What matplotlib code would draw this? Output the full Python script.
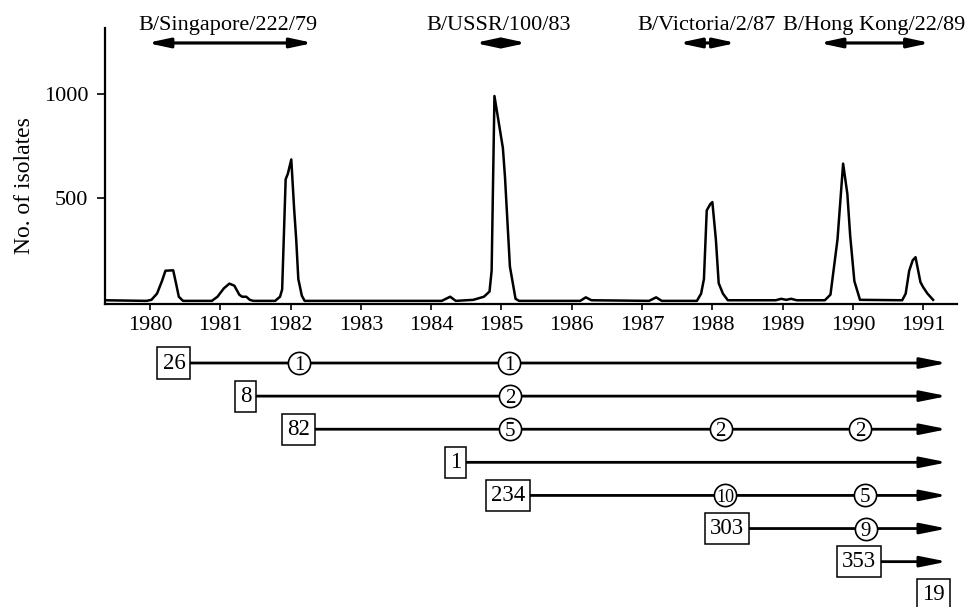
import matplotlib
matplotlib.use('Agg')
import matplotlib.pyplot as plt

plt.rcParams['font.family'] = ['Liberation Serif', 'DejaVu Serif']

# isolates per week
years = [1979.36, 1979.95, 1980.02, 1980.1, 1980.17, 1980.22, 1980.33, 1980.37, 1980.41, 1980.47,
         1980.88, 1980.96, 1981.05, 1981.13, 1981.2, 1981.27, 1981.31, 1981.37, 1981.42, 1981.47,
         1981.78, 1981.85, 1981.88, 1981.93, 1981.96, 1982.01, 1982.05, 1982.08, 1982.11, 1982.16, 1982.2,
         1984.15, 1984.27, 1984.35, 1984.6, 1984.75, 1984.83, 1984.86, 1984.9, 1985.02, 1985.05, 1985.12,
         1985.2, 1985.25, 1986.12, 1986.2, 1986.28, 1987.1, 1987.2, 1987.28,
         1987.78, 1987.84, 1987.88, 1987.92, 1987.97, 1988.0, 1988.05, 1988.09, 1988.15, 1988.22,
         1988.9, 1988.98, 1989.05, 1989.12, 1989.2,
         1989.6, 1989.68, 1989.78, 1989.86, 1989.92, 1989.96, 1990.02, 1990.1,
         1990.7, 1990.75, 1990.8, 1990.85, 1990.89, 1990.96, 1991.0, 1991.06, 1991.14]
isolates = [8, 5, 10, 40, 100, 150, 152, 90, 25, 5,
            5, 25, 65, 88, 78, 35, 25, 25, 10, 5,
            5, 25, 60, 590, 615, 685, 450, 300, 110, 30, 5,
            5, 25, 5, 10, 25, 50, 150, 990, 740, 600, 170,
            15, 5, 5, 22, 8, 5, 22, 5,
            5, 40, 110, 440, 470, 480, 300, 90, 40, 8,
            8, 15, 10, 15, 8,
            8, 35, 300, 665, 520, 320, 100, 10,
            8, 40, 150, 200, 215, 95, 70, 40, 10]

tick_years = list(range(1980, 1992))
y_ticks = [500, 1000]

# strain periods across the top
strains = ['B/Singapore/222/79', 'B/USSR/100/83', 'B/Victoria/2/87', 'B/Hong Kong/22/89']
strain_start = [1979.96, 1984.62, 1987.52, 1989.52]
strain_end = [1982.32, 1985.36, 1988.34, 1991.1]
strain_label_x = [1981.11, 1984.96, 1987.92, 1990.3]

# lineages: first season count (box), later counts (circles)
first_year = [1980.34, 1981.36, 1982.11, 1984.35, 1985.09, 1988.21, 1990.09, 1991.14]
first_count = [26, 8, 82, 1, 234, 303, 353, 19]
later_year = [[1982.12, 1985.11], [1985.12], [1985.12, 1988.12, 1990.1], [],
              [1988.18, 1990.17], [1990.18], [], []]
later_count = [[1, 1], [2], [5, 2, 2], [], [10, 5], [9], [], []]
line_end = 1991.34

W, H = 968, 607
fig = plt.figure(figsize=(W / 100, H / 100), dpi=100)
ax = fig.add_axes([105 / W, 1 - 304 / H, 852 / W, 276 / H])
ax2 = fig.add_axes([105 / W, 0, 852 / W, 267 / H], sharex=ax)

ax.plot(years, isolates, color='black', lw=1.8)
ax.set_xlim(1979.36, 1991.48)
ax.set_ylim(-10, 1317)
ax.set_xticks(tick_years)
ax.set_yticks(y_ticks)
ax.spines['top'].set_visible(False)
ax.spines['right'].set_visible(False)
ax.spines['left'].set_linewidth(1.6)
ax.spines['bottom'].set_linewidth(1.6)
ax.tick_params(axis='x', direction='out', length=4.5, width=1.2, pad=4, labelsize=16)
ax.tick_params(axis='y', direction='out', length=6, width=1.2, pad=6, labelsize=16)
ax.set_ylabel('No. of isolates', fontsize=17)
ax.yaxis.set_label_coords(-0.082, 0.43)

for name, s, e, lx in zip(strains, strain_start, strain_end, strain_label_x):
    ax.annotate('', xy=(e, 1245), xytext=(s, 1245), annotation_clip=False,
                arrowprops=dict(arrowstyle='<|-|>,head_length=0.65,head_width=0.14',
                                lw=2.3, color='black', mutation_scale=20,
                                shrinkA=0, shrinkB=0))
    ax.text(lx, 1308, name, ha='center', va='baseline', fontsize=16, clip_on=False)

# lower panel: one row per lineage
ax2.set_ylim(7.37, -0.695)
ax2.axis('off')
for r in range(len(first_year)):
    if first_year[r] < line_end - 0.3:
        ax2.annotate('', xy=(line_end, r), xytext=(first_year[r], r), annotation_clip=False,
                     arrowprops=dict(arrowstyle='-|>,head_length=0.8,head_width=0.16',
                                     lw=2.0, color='black', mutation_scale=20,
                                     shrinkA=0, shrinkB=0), zorder=2)
    ax2.text(first_year[r], r, str(first_count[r]), ha='center', va='center', fontsize=16.5,
             zorder=5, bbox=dict(boxstyle='square,pad=0.22', fc='white', ec='black', lw=1.1))
    for x, c in zip(later_year[r], later_count[r]):
        ax2.plot(x, r, 'o', ms=16, mfc='white', mec='black', mew=1.2, zorder=3)
        ax2.text(x, r, str(c), ha='center', va='center_baseline',
                 fontsize=15 if c < 10 else 13, zorder=4)

fig.savefig('out.png', dpi=100)
